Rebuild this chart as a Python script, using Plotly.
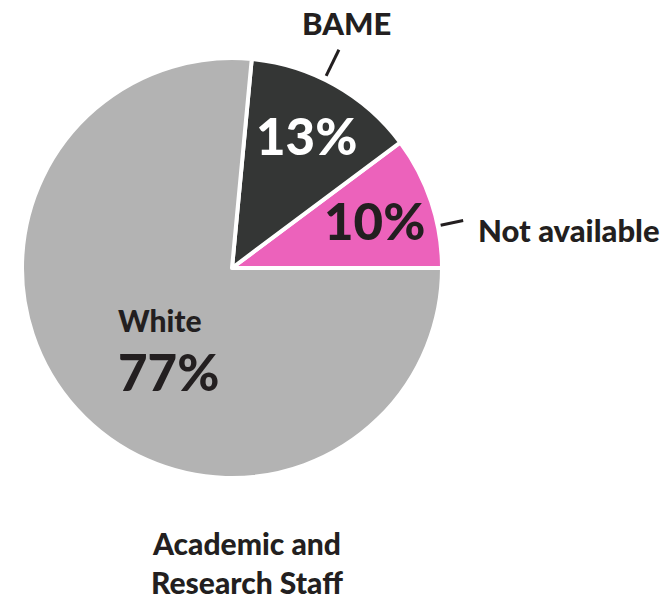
import math
import plotly.graph_objects as go

# ---- data ----
categories = ["Not available", "BAME", "White"]
values = [10.2, 13.3, 76.5]
pct_labels = ["10%", "13%", "77%"]
colors = ["#ec62bb", "#343635", "#b3b3b3"]
title_text = "Academic and<br>Research Staff"

W, H = 664, 605
CX, CY, R = 232, 268, 210  # pie centre / radius in window px

def px(x):
    return x / W

def py(y):
    return 1 - y / H

total = sum(values)
first_share_deg = values[0] / total * 360

fig = go.Figure(go.Pie(
    labels=categories,
    values=values,
    sort=False,
    direction="counterclockwise",
    rotation=90 - first_share_deg,
    textinfo="none",
    marker=dict(colors=colors, line=dict(color="white", width=4)),
    domain=dict(x=[px(CX - R), px(CX + R)], y=[py(CY + R), py(CY - R)]),
    showlegend=False,
))

# mid-angles of the slices (degrees, counterclockwise from east)
mids = []
acc = 0
for v in values:
    a0 = acc / total * 360
    acc += v
    a1 = acc / total * 360
    mids.append((a0 + a1) / 2)

def polar(angle, r):
    a = math.radians(angle)
    return CX + r * math.cos(a), CY - r * math.sin(a)

FONT = "Lato"
DARK = "#231f20"
ann = []

# percentage labels inside slices
x, y = polar(mids[0], 150)
ann.append(dict(x=px(x), y=py(y), text=pct_labels[0],
                font=dict(family=FONT, size=51, color=DARK, weight=900)))
x, y = polar(mids[1], 152)
ann.append(dict(x=px(x), y=py(y), text=pct_labels[1],
                font=dict(family=FONT, size=51, color="white", weight=900)))
ann.append(dict(x=px(160), y=py(320), text=categories[2],
                font=dict(family=FONT, size=30, color=DARK, weight=900)))
ann.append(dict(x=px(168), y=py(371), text=pct_labels[2],
                font=dict(family=FONT, size=51, color=DARK, weight=900)))

# outside labels
ann.append(dict(x=px(347), y=py(23), text=categories[1],
                font=dict(family=FONT, size=31, color=DARK, weight=900)))
ann.append(dict(x=px(476), y=py(230), text=categories[0], xanchor="left",
                font=dict(family=FONT, size=31, color=DARK, weight=900)))

# title below
ann.append(dict(x=px(247), y=py(562), text=title_text,
                font=dict(family=FONT, size=30, color=DARK, weight=900)))

for a in ann:
    a.update(xref="paper", yref="paper", showarrow=False)
    a.setdefault("xanchor", "center")
    a.setdefault("yanchor", "middle")

# leader lines
shapes = []
for ang, r0, r1 in [(63.9, 214, 243), (11.6, 213, 236)]:
    x0, y0 = polar(ang, r0)
    x1, y1 = polar(ang, r1)
    shapes.append(dict(type="line", xref="paper", yref="paper",
                       x0=px(x0), y0=py(y0), x1=px(x1), y1=py(y1),
                       line=dict(color=DARK, width=3)))

fig.update_layout(
    width=W, height=H,
    margin=dict(l=0, r=0, t=0, b=0),
    paper_bgcolor="white",
    plot_bgcolor="white",
    annotations=ann,
    shapes=shapes,
)

fig.write_html(
    "out.html",
    config={"displayModeBar": False},
    post_script="document.body.style.margin='0';document.body.style.overflow='hidden';",
)
